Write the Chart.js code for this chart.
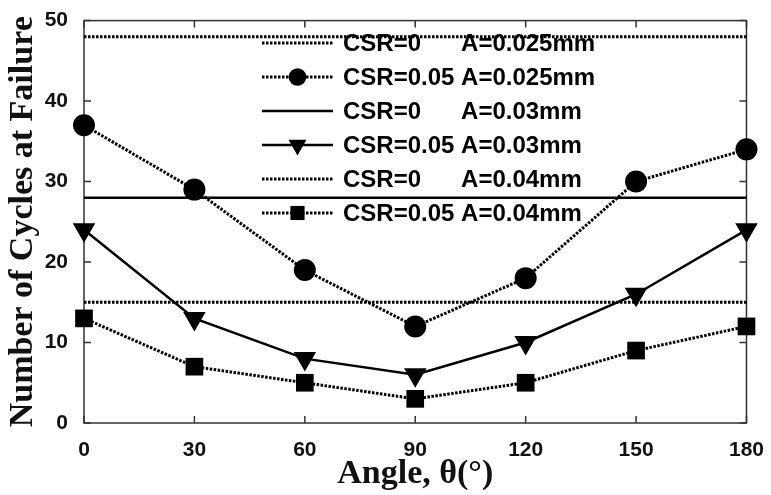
<!DOCTYPE html>
<html>
<head>
<meta charset="utf-8">
<script src="https://cdn.jsdelivr.net/npm/chart.js@4.4.1/dist/chart.umd.min.js"></script>
<style>
  html, body { margin: 0; padding: 0; background: #fff; }
  #wrap { width: 771px; height: 495px; }
</style>
</head>
<body>
<div id="wrap"><canvas id="cyclesChart" width="771" height="495"></canvas></div>
<script>
// Angle (deg) on x, cycles at failure on y
const angles = [0, 30, 60, 90, 120, 150, 180];
const xSpan  = [0, 180];          // CSR=0 results are flat across all angles

const seriesLabels = [
  'CSR=0      A=0.025mm',
  'CSR=0.05 A=0.025mm',
  'CSR=0      A=0.03mm',
  'CSR=0.05 A=0.03mm',
  'CSR=0      A=0.04mm',
  'CSR=0.05 A=0.04mm'
];

const csr0A025   = [48, 48];
const csr005A025 = [37, 29, 19, 12, 18, 30, 34];
const csr0A03    = [28, 28];
const csr005A03  = [24, 13, 8, 6, 10, 16, 24];
const csr0A04    = [15, 15];
const csr005A04  = [13, 7, 5, 3, 5, 9, 12];

const xTicks = [0, 30, 60, 90, 120, 150, 180];
const yTicks = [0, 10, 20, 30, 40, 50];

const DOTS = [2.5, 1.5];

function pts(xs, ys) {
  return ys.map((y, i) => ({ x: xs[i], y }));
}

function series(label, data, dash, style, radius, rotation) {
  return {
    label,
    data,
    borderColor: '#000',
    backgroundColor: '#000',
    borderWidth: dash.length ? 3 : 2.5,
    borderDash: dash,
    pointStyle: style || 'circle',
    pointRadius: style ? radius : 0,
    pointHoverRadius: style ? radius : 0,
    pointRotation: rotation || 0,
    pointBorderWidth: 0,
    tension: 0,
    clip: false,
    parsing: false
  };
}

// Box round the plot plus inward tick marks on all four sides
const framePlugin = {
  id: 'frame',
  beforeDatasetsDraw(chart) {
    const { ctx, chartArea: a, scales } = chart;
    const tl = 7;
    ctx.save();
    ctx.strokeStyle = '#333';
    ctx.lineWidth = 1.5;
    ctx.setLineDash([]);
    ctx.strokeRect(a.left, a.top, a.right - a.left, a.bottom - a.top);
    ctx.beginPath();
    xTicks.forEach(v => {
      const px = scales.x.getPixelForValue(v);
      ctx.moveTo(px, a.bottom); ctx.lineTo(px, a.bottom - tl);
      ctx.moveTo(px, a.top);    ctx.lineTo(px, a.top + tl);
    });
    yTicks.forEach(v => {
      const py = scales.y.getPixelForValue(v);
      ctx.moveTo(a.left, py);  ctx.lineTo(a.left + tl, py);
      ctx.moveTo(a.right, py); ctx.lineTo(a.right - tl, py);
    });
    ctx.stroke();
    ctx.restore();
  }
};

// Legend inside the plot, transparent, line sample with marker in the middle
const legendPlugin = {
  id: 'insideLegend',
  afterDatasetsDraw(chart) {
    const { ctx } = chart;
    const x0 = 262, sampleW = 71, textX = 343;
    const y0 = 43, rowH = 34;
    ctx.save();
    chart.data.datasets.forEach((ds, i) => {
      const y = y0 + i * rowH;
      ctx.strokeStyle = '#000';
      ctx.fillStyle = '#000';
      ctx.lineWidth = ds.borderWidth;
      ctx.setLineDash(ds.borderDash);
      ctx.beginPath();
      ctx.moveTo(x0, y);
      ctx.lineTo(x0 + sampleW, y);
      ctx.stroke();
      if (ds.pointRadius > 0) {
        ctx.setLineDash([]);
        Chart.helpers.drawPoint(ctx, {
          pointStyle: ds.pointStyle,
          rotation: ds.pointRotation,
          radius: ds.pointRadius * 0.8,
          borderWidth: 0
        }, x0 + sampleW / 2, y);
      }
      ctx.font = 'bold 24px "Liberation Sans", Arial, sans-serif';
      ctx.textBaseline = 'middle';
      ctx.textAlign = 'left';
      ctx.fillText(ds.label, textX, y + 1);
    });
    ctx.restore();
  }
};

const tickFont = { family: '"Liberation Sans", Arial, sans-serif', size: 21, weight: 'bold' };
const titleFont = { family: '"Liberation Serif", "Times New Roman", serif', size: 34, weight: 'bold' };

new Chart(document.getElementById('cyclesChart'), {
  type: 'line',
  data: {
    datasets: [
      series(seriesLabels[0], pts(xSpan, csr0A025), DOTS),
      series(seriesLabels[1], pts(angles, csr005A025), DOTS, 'circle', 11),
      series(seriesLabels[2], pts(xSpan, csr0A03), []),
      series(seriesLabels[3], pts(angles, csr005A03), [], 'triangle', 13, 180),
      series(seriesLabels[4], pts(xSpan, csr0A04), DOTS),
      series(seriesLabels[5], pts(angles, csr005A04), DOTS, 'rect', 12.5)
    ]
  },
  options: {
    responsive: false,
    devicePixelRatio: 1,
    animation: false,
    layout: { padding: { top: 15, right: 21, left: 0, bottom: 0 } },
    plugins: {
      legend: { display: false },
      tooltip: { enabled: false }
    },
    scales: {
      x: {
        type: 'linear',
        min: 0,
        max: 180,
        afterBuildTicks: s => { s.ticks = xTicks.map(v => ({ value: v })); },
        afterFit: s => { s.height = 72; },
        grid: { display: false },
        border: { display: false },
        ticks: { font: tickFont, color: '#111', padding: 7, maxRotation: 0 },
        title: { display: true, text: 'Angle, θ(°)', font: titleFont, color: '#111', padding: { top: 0, bottom: 0 } }
      },
      y: {
        type: 'linear',
        min: 0,
        max: 50,
        afterBuildTicks: s => { s.ticks = yTicks.map(v => ({ value: v })); },
        afterFit: s => { s.width = 84; },
        grid: { display: false },
        border: { display: false },
        ticks: { font: tickFont, color: '#111', padding: 8 },
        title: { display: true, text: 'Number of Cycles at Failure', font: titleFont, color: '#111', padding: { top: 3, bottom: 0 } }
      }
    }
  },
  plugins: [framePlugin, legendPlugin]
});
</script>
</body>
</html>
